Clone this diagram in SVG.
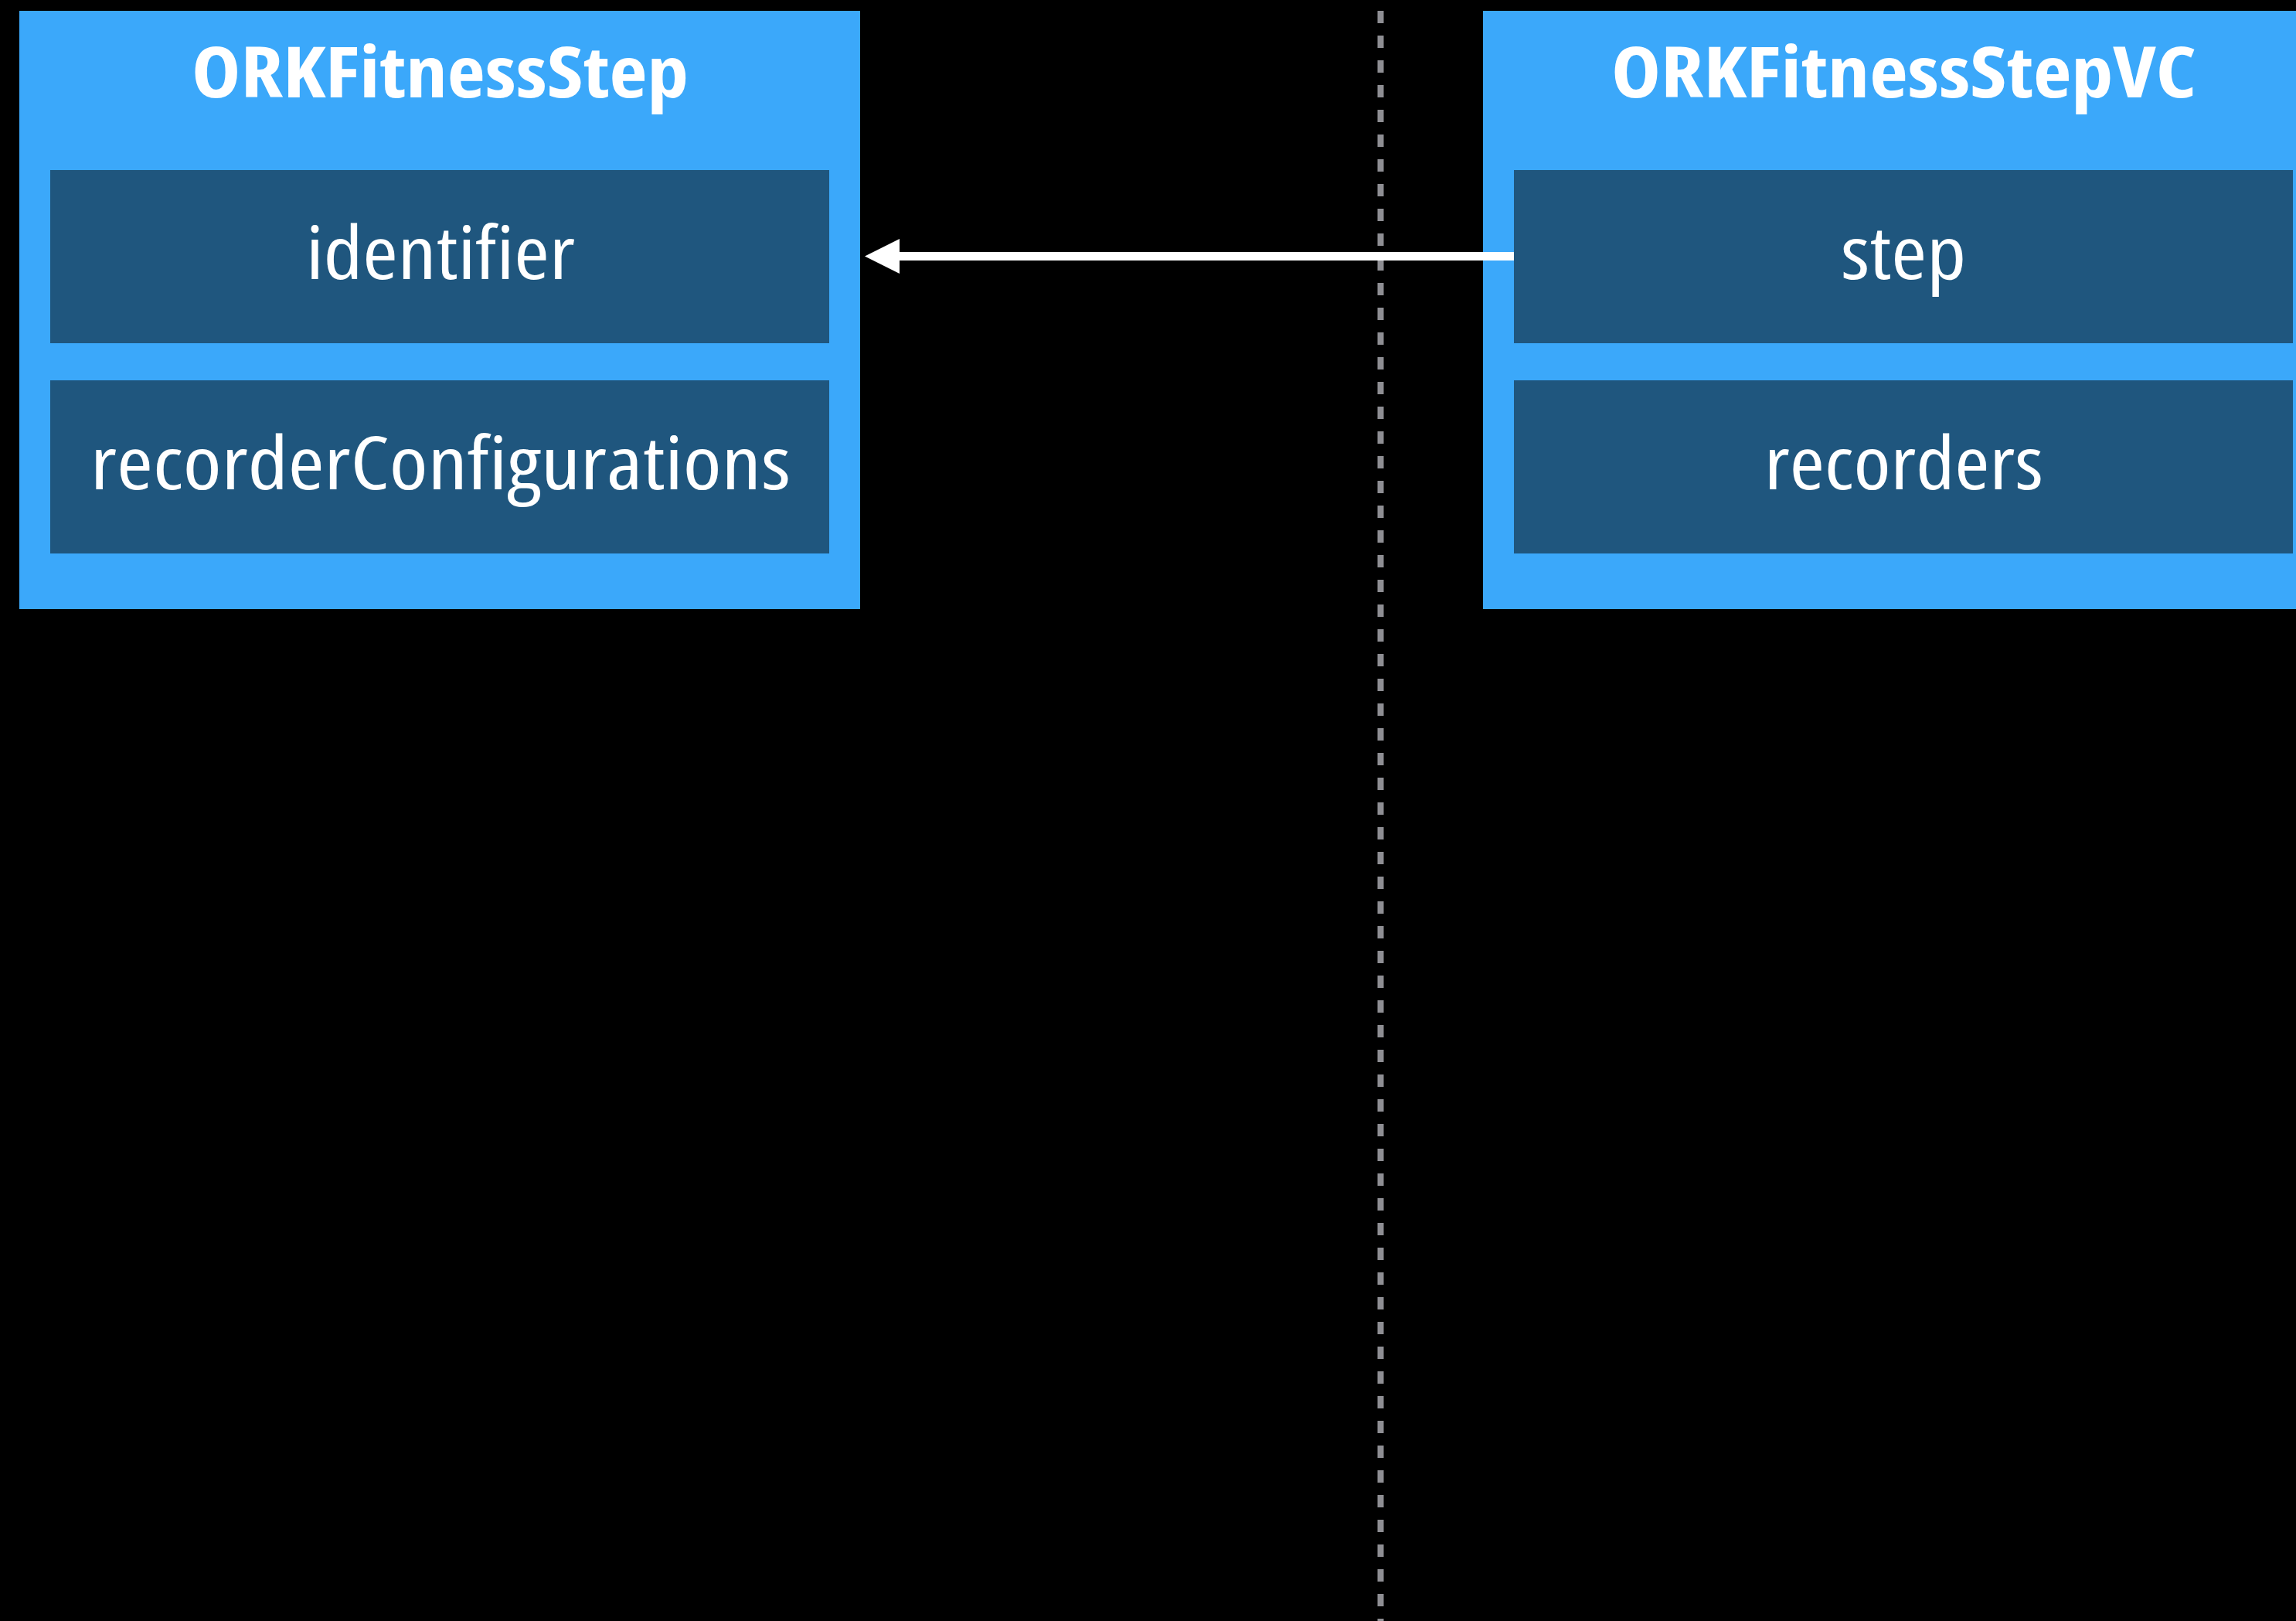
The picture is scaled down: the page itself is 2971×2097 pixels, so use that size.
<svg xmlns="http://www.w3.org/2000/svg" width="2971" height="2097" viewBox="0 0 2971 2097">
<style>
.outer{fill:#3BA8FA}
.inner{fill:#1F567E}
.title{font-family:"Open Sans","Noto Sans","Liberation Sans",sans-serif;font-weight:700;font-size:92px;fill:#fff;text-anchor:middle;font-stretch:semi-condensed}
.field{font-family:"Open Sans","Noto Sans","Liberation Sans",sans-serif;font-weight:400;font-size:95px;fill:#fff;text-anchor:middle;font-stretch:semi-condensed}
.divider{stroke:#8E8E93;stroke-width:8;stroke-dasharray:16 16;fill:none}
.conn{stroke:#fff;stroke-width:11;fill:none}
</style>
<defs>
<marker id="arrow" markerUnits="userSpaceOnUse" viewBox="0 -23 46 46" refX="0" refY="0" markerWidth="46" markerHeight="46" orient="auto">
<path d="M0,-22.5 L45,0 L0,22.5 Z" fill="#fff"/>
</marker>
</defs>
<rect width="2971" height="2097" fill="#000"/>
<line class="divider" x1="1786.5" y1="14" x2="1786.5" y2="2097"/>
<g id="ORKFitnessStep">
<rect class="outer" x="25" y="14" width="1088" height="774"/>
<text class="title" x="569.5" y="126" textLength="643" lengthAdjust="spacingAndGlyphs">ORKFitnessStep</text>
<g id="ORKFitnessStep-identifier">
<rect class="inner" x="65" y="220" width="1008" height="224"/>
<text class="field" x="570" y="361" textLength="348" lengthAdjust="spacingAndGlyphs">identifier</text>
</g>
<g id="ORKFitnessStep-recorderConfigurations">
<rect class="inner" x="65" y="492" width="1008" height="224"/>
<text class="field" x="570" y="633" textLength="906" lengthAdjust="spacingAndGlyphs">recorderConfigurations</text>
</g>
</g>
<g id="ORKFitnessStepVC">
<rect class="outer" x="1919" y="14" width="1089" height="774"/>
<text class="title" x="2463.5" y="126" textLength="757" lengthAdjust="spacingAndGlyphs">ORKFitnessStepVC</text>
<g id="ORKFitnessStepVC-step">
<rect class="inner" x="1959" y="220" width="1008" height="224"/>
<text class="field" x="2463" y="361" textLength="162" lengthAdjust="spacingAndGlyphs">step</text>
</g>
<g id="ORKFitnessStepVC-recorders">
<rect class="inner" x="1959" y="492" width="1008" height="224"/>
<text class="field" x="2463.5" y="633" textLength="361" lengthAdjust="spacingAndGlyphs">recorders</text>
</g>
</g>
<g id="connectors">
<path class="conn" d="M1959,331.5 L1164,331.5" marker-end="url(#arrow)"/>
</g>
</svg>
